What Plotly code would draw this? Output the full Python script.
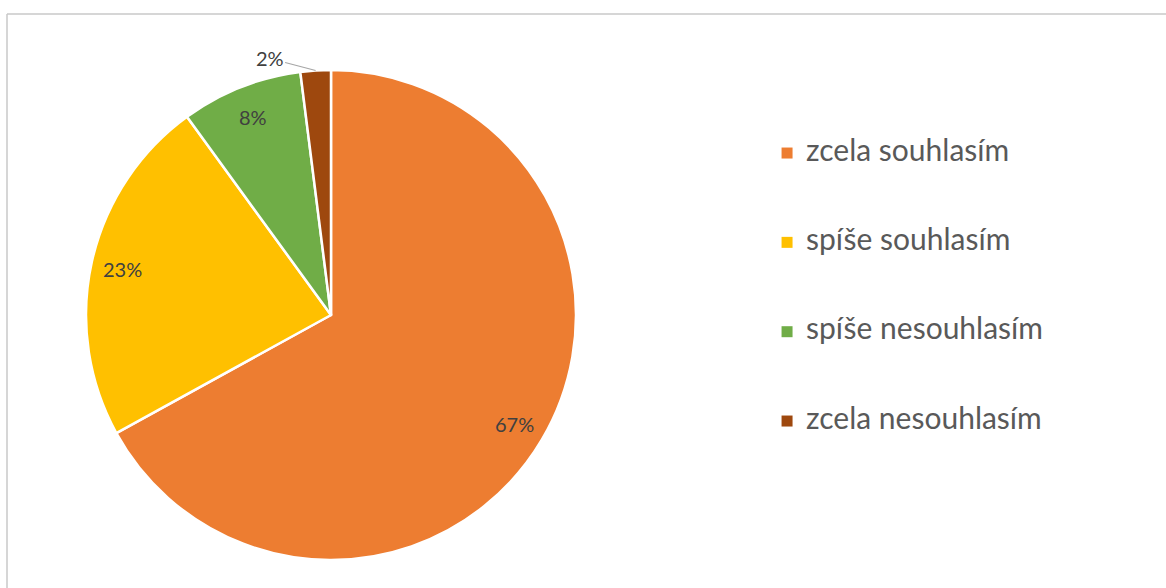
import math
import plotly.graph_objects as go

categories = ["zcela souhlasím", "spíše souhlasím", "spíše nesouhlasím", "zcela nesouhlasím"]
values = [67, 23, 8, 2]
colors = ["#ED7D31", "#FFC000", "#70AD47", "#9E480E"]
outside_label = [False, False, False, True]

W, H = 1166, 588
# pie placement (pixels)
PIE_CX, PIE_CY, PIE_R = 331, 315, 245
LABEL_FRAC = 0.87

fig = go.Figure()
fig.add_trace(go.Pie(
    labels=categories,
    values=values,
    sort=False,
    direction="clockwise",
    rotation=0,
    marker=dict(colors=colors, line=dict(color="white", width=2.5)),
    textinfo="none",
    domain=dict(x=[(PIE_CX - PIE_R) / W, (PIE_CX + PIE_R) / W],
                y=[1 - (PIE_CY + PIE_R) / H, 1 - (PIE_CY - PIE_R) / H]),
    showlegend=False,
    hoverinfo="label+percent",
))

# percentage labels positioned from the data (slice mid-angles)
total = sum(values)
annotations = []
cum = 0.0
for v, outside in zip(values, outside_label):
    frac = v / total
    mid = (cum + frac / 2) * 2 * math.pi
    cum += frac
    txt = f"{round(frac * 100)}%"
    if not outside:
        r = PIE_R * LABEL_FRAC
        px = PIE_CX + r * math.sin(mid)
        py = PIE_CY - r * math.cos(mid)
        annotations.append(dict(
            x=px / W, y=1 - py / H, xref="paper", yref="paper",
            xanchor="center", yanchor="middle",
            text=txt, showarrow=False,
            font=dict(family="Lato, sans-serif", size=20, color="#404040"),
        ))
    else:
        px = PIE_CX + PIE_R * math.sin(mid)
        py = PIE_CY - PIE_R * math.cos(mid)
        annotations.append(dict(
            x=px / W, y=1 - py / H, xref="paper", yref="paper",
            text=txt, showarrow=True, arrowhead=0, arrowwidth=1.2,
            arrowcolor="#A6A6A6", ax=-46, ay=-12, standoff=0,
            font=dict(family="Lato, sans-serif", size=20, color="#404040"),
        ))

# legend drawn as scatter traces: square markers + category text
n = len(categories)
ypos = [n - 1 - i for i in range(n)]
fig.add_trace(go.Scatter(
    x=[0] * n, y=ypos, mode="markers",
    marker=dict(symbol="square", size=11, color=colors),
    hoverinfo="skip", showlegend=False, cliponaxis=False,
))
fig.add_trace(go.Scatter(
    x=[0.65] * n, y=ypos, mode="text",
    text=categories, textposition="middle right",
    textfont=dict(family="Lato, sans-serif", size=30, color="#595959"),
    hoverinfo="skip", showlegend=False, cliponaxis=False,
))

fig.update_layout(
    width=W, height=H,
    margin=dict(l=0, r=0, t=0, b=0),
    paper_bgcolor="white",
    plot_bgcolor="white",
    xaxis=dict(domain=[0.6, 1.0], range=[-3, 13], visible=False, fixedrange=True),
    yaxis=dict(domain=[0, 1], range=[-1.869, 4.713], visible=False, fixedrange=True),
    annotations=annotations,
    shapes=[
        dict(type="line", xref="paper", yref="paper", x0=7 / W, x1=1, y0=1 - 14 / H, y1=1 - 14 / H,
             line=dict(color="#C8C8C8", width=1.5)),
        dict(type="line", xref="paper", yref="paper", x0=7 / W, x1=7 / W, y0=0, y1=1 - 14 / H,
             line=dict(color="#C8C8C8", width=1.5)),
    ],
)

fig.write_html("out.html", config={"displayModeBar": False},
               post_script="document.body.style.margin='0px';")
